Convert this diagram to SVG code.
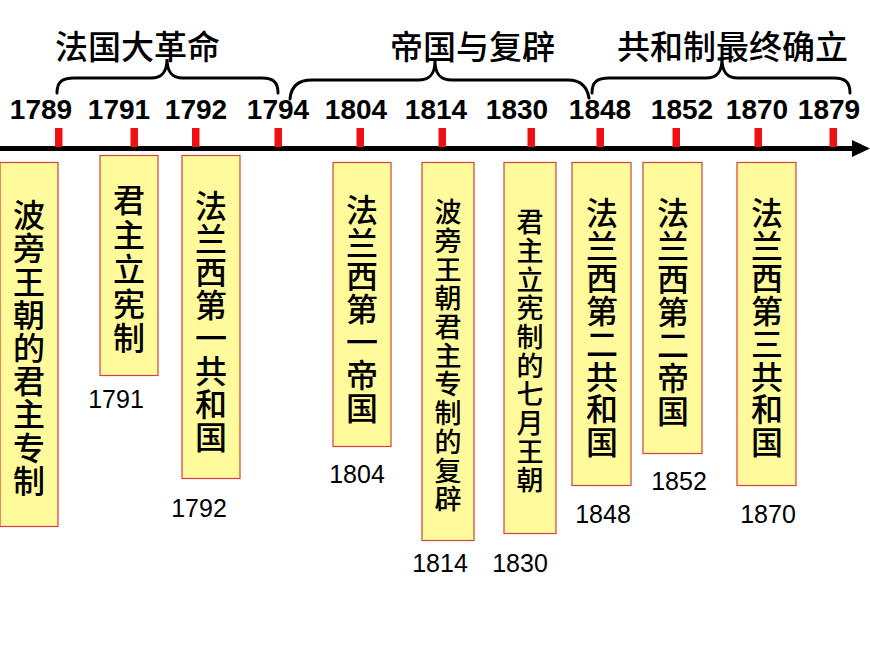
<svg xmlns="http://www.w3.org/2000/svg" width="870" height="653" viewBox="0 0 870 653">
<style>
.yr{font-family:"Liberation Sans",Arial,sans-serif;font-weight:bold;font-size:28px;fill:#000;text-anchor:middle}
.lbl{font-family:"Liberation Sans",Arial,sans-serif;font-size:25px;fill:#000;text-anchor:middle}
.ttl{font-family:"Noto Sans CJK SC","Noto Sans",sans-serif;font-weight:500;font-size:33px;fill:#000}
.bx{fill:#FFFA9C;stroke:#D2413A;stroke-width:1.2}
.vt{font-family:"Noto Sans CJK SC",sans-serif;font-weight:500;font-size:32px;fill:#000;text-anchor:middle}
.vs{font-size:27px}
.tick{fill:#EE1111}
.brace{fill:none;stroke:#000;stroke-width:3;stroke-linecap:round}
</style>
<rect width="870" height="653" fill="#fff"/>
<g id="titles">
<text class="ttl" x="55" y="59">法国大革命</text>
<text class="ttl" x="390" y="59">帝国与复辟</text>
<text class="ttl" x="617" y="59">共和制最终确立</text>
</g>
<g id="connectors">
<path class="brace" d="M57,93 C57,82 62,78 74,78 L151,78 C162,78 167,72 167,59 C167,72 172,78 183,78 L262,78 C273,78 278,82 278,93"/>
<path class="brace" d="M290,99 C291,86 298,80 312,80 L418,80 C430,80 435,74 435,61 C435,74 440,80 452,80 L568,80 C580,80 587,86 589,98"/>
<path class="brace" d="M592,93 C592,82 597,78 609,78 L706,78 C717,78 722,72 722,59 C722,72 727,78 738,78 L834,78 C845,78 850,82 850,93"/>
<line x1="0" y1="148.5" x2="856" y2="148.5" stroke="#000" stroke-width="5"/>
<polygon points="852,140 870,148.5 852,157" fill="#000"/>
</g>
<g id="axis-ticks">
<rect class="tick" x="55" y="128" width="7.5" height="19"/>
<rect class="tick" x="130.5" y="128" width="7.5" height="19"/>
<rect class="tick" x="192" y="128" width="7.5" height="19"/>
<rect class="tick" x="274.5" y="128" width="7.5" height="19"/>
<rect class="tick" x="356.5" y="128" width="7.5" height="19"/>
<rect class="tick" x="438.5" y="128" width="7.5" height="19"/>
<rect class="tick" x="527.5" y="128" width="7.5" height="19"/>
<rect class="tick" x="596.5" y="128" width="7.5" height="19"/>
<rect class="tick" x="672.5" y="128" width="7.5" height="19"/>
<rect class="tick" x="754.5" y="128" width="7.5" height="19"/>
<rect class="tick" x="829.5" y="128" width="7.5" height="19"/>
</g>
<g id="years">
<text class="yr" x="41" y="119">1789</text>
<text class="yr" x="119" y="119">1791</text>
<text class="yr" x="196" y="119">1792</text>
<text class="yr" x="278" y="119">1794</text>
<text class="yr" x="356" y="119">1804</text>
<text class="yr" x="436" y="119">1814</text>
<text class="yr" x="517" y="119">1830</text>
<text class="yr" x="600" y="119">1848</text>
<text class="yr" x="682" y="119">1852</text>
<text class="yr" x="757" y="119">1870</text>
<text class="yr" x="829" y="119">1879</text>
</g>
<g id="node-1789">
<rect class="bx" x="0" y="162.5" width="58" height="364"/>
<text class="vt" x="29 29 29 29 29 29 29 29 29" y="227 260 293.5 327 360 393 426 459.5 493">波旁王朝的君主专制</text>
</g>
<g id="node-1791">
<rect class="bx" x="100" y="155.5" width="58" height="220"/>
<text class="vt" x="129 129 129 129 129" y="212 246.5 281 315.5 350">君主立宪制</text>
<text class="lbl" x="116" y="408">1791</text>
</g>
<g id="node-1792">
<rect class="bx" x="182" y="155.5" width="58" height="323"/>
<text class="vt" x="211 211 211 211 211 211 211 211" y="218 251 284 317 350 383 416 449">法兰西第一共和国</text>
<text class="lbl" x="199" y="517">1792</text>
</g>
<g id="node-1804">
<rect class="bx" x="333" y="162.5" width="58" height="284"/>
<text class="vt" x="362 362 362 362 362 362 362" y="222 255 288 321 354 387 420">法兰西第一帝国</text>
<text class="lbl" x="357" y="483">1804</text>
</g>
<g id="node-1814">
<rect class="bx" x="422" y="162.5" width="52" height="378"/>
<text class="vt vs" x="448 448 448 448 448 448 448 448 448 448 448" y="222 251 280 308 337 366 394 423 452 481 509">波旁王朝君主专制的复辟</text>
<text class="lbl" x="440" y="572">1814</text>
</g>
<g id="node-1830">
<rect class="bx" x="504" y="162.5" width="52" height="371"/>
<text class="vt vs" x="530 530 530 530 530 530 530 530 530 530" y="232 261 290 318 347 376 404 433 462 490">君主立宪制的七月王朝</text>
<text class="lbl" x="520" y="572">1830</text>
</g>
<g id="node-1848">
<rect class="bx" x="572" y="162.5" width="59" height="323"/>
<text class="vt" x="602 602 602 602 602 602 602 602" y="225 257.7 290.4 323 355.8 388.5 421 454">法兰西第二共和国</text>
<text class="lbl" x="603" y="523">1848</text>
</g>
<g id="node-1852">
<rect class="bx" x="643" y="162.5" width="59" height="291"/>
<text class="vt" x="673 673 673 673 673 673 673" y="225 258 291 324 357 390 423">法兰西第二帝国</text>
<text class="lbl" x="679" y="490">1852</text>
</g>
<g id="node-1870">
<rect class="bx" x="737" y="162.5" width="59" height="323"/>
<text class="vt" x="767 767 767 767 767 767 767 767" y="225 257.7 290.4 323 355.8 388.5 421 454">法兰西第三共和国</text>
<text class="lbl" x="768" y="523">1870</text>
</g>
</svg>
